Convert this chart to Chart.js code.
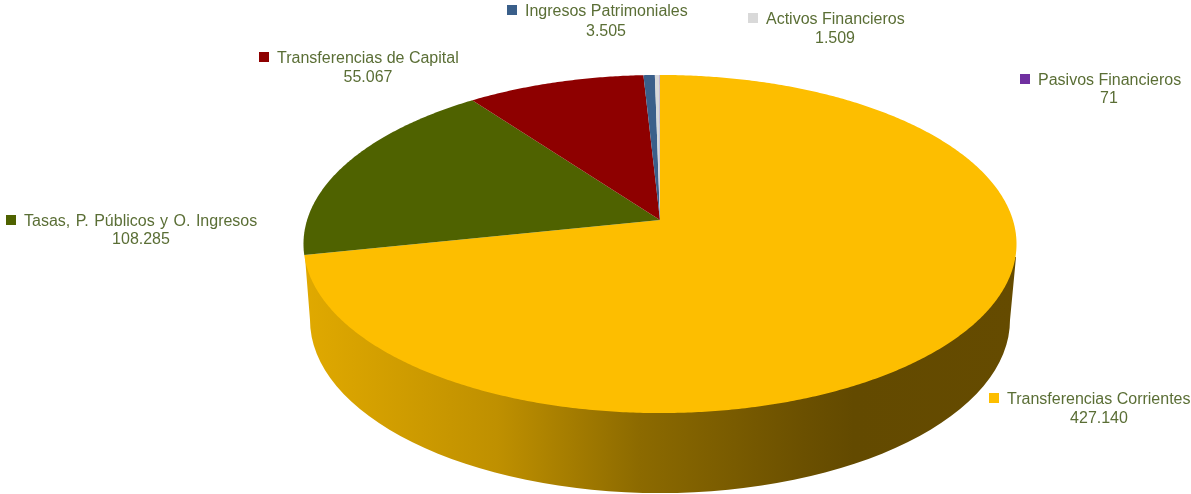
<!DOCTYPE html>
<html>
<head>
<meta charset="utf-8">
<title>Ingresos</title>
<script src="https://cdn.jsdelivr.net/npm/chart.js@4"></script>
<style>
  html, body { margin: 0; padding: 0; background: #fff; overflow: hidden; }
  #wrap { width: 1191px; height: 494px; }
</style>
</head>
<body>
<div id="wrap"><canvas id="ingresosChart" width="1191" height="494"></canvas></div>
<script>
const categories = ['Transferencias Corrientes', 'Tasas, P. Públicos y O. Ingresos', 'Transferencias de Capital', 'Ingresos Patrimoniales', 'Activos Financieros', 'Pasivos Financieros'];
const values = [427140, 108285, 55067, 3505, 1509, 71];
const colors = ['#FDBE00', '#4F6200', '#8E0000', '#3A5F8A', '#D9D9D9', '#7030A0'];

// where each label sits: [text left, name baseline, value centre, value baseline, word gap]
const labelSpots = [
  [1007, 404, 1099, 423, 0],
  [24, 226, 141, 244, 1],
  [277, 63, 368, 82, 0],
  [525, 16, 606, 36, 0],
  [766, 24, 835, 43, 0],
  [1038, 85, 1109, 103, 0],
];

const textColor = '#5A6E35';
const labelFont = '16px "Liberation Sans", Arial, sans-serif';

// tilt of the pie: near side bigger than far side
const tiltX = 0.9885;
const tiltY = 0.4640;
const tiltK = 0.142;

function project(arc, angle) {
  const u = Math.cos(angle);
  const v = Math.sin(angle);
  const w = 1 - tiltK * v;
  return [arc.x + arc.outerRadius * tiltX * u / w, arc.y + arc.outerRadius * tiltY * v / w];
}

function drawWall(ctx) {
  const wall = ctx.createLinearGradient(305, 0, 1017, 0);
  wall.addColorStop(0, '#E0A900');
  wall.addColorStop(0.27, '#BF9000');
  wall.addColorStop(0.47, '#8C6A00');
  wall.addColorStop(0.7, '#6B5000');
  wall.addColorStop(0.77, '#634A00');
  wall.addColorStop(1, '#654B00');
  ctx.beginPath();
  ctx.moveTo(1016, 257);
  ctx.lineTo(1010, 320);
  ctx.ellipse(660, 320, 350, 173, 0, 0, Math.PI);
  ctx.lineTo(305, 257);
  ctx.closePath();
  ctx.fillStyle = wall;
  ctx.fill();
}

const tiltedPie = {
  id: 'tiltedPie',
  beforeDatasetDraw(chart, args) {
    const ctx = chart.ctx;
    const arcs = chart.getDatasetMeta(args.index).data;
    drawWall(ctx);
    arcs.forEach((arc) => {
      ctx.beginPath();
      ctx.moveTo(arc.x, arc.y);
      const steps = Math.max(2, Math.ceil((arc.endAngle - arc.startAngle) * 120));
      for (let i = 0; i <= steps; i++) {
        const p = project(arc, arc.startAngle + (arc.endAngle - arc.startAngle) * i / steps);
        ctx.lineTo(p[0], p[1]);
      }
      ctx.closePath();
      ctx.fillStyle = arc.options.backgroundColor;
      ctx.fill();
    });
    return false;
  },
};

const sliceLabels = {
  id: 'sliceLabels',
  afterDraw(chart) {
    const ctx = chart.ctx;
    ctx.save();
    ctx.font = labelFont;
    ctx.textBaseline = 'alphabetic';
    categories.forEach((name, i) => {
      const [x, y, valueX, valueY, gap] = labelSpots[i];
      ctx.fillStyle = colors[i];
      ctx.fillRect(x - 18, y - 11, 10, 10);
      ctx.fillStyle = textColor;
      ctx.textAlign = 'left';
      ctx.wordSpacing = gap + 'px';
      ctx.fillText(name, x, y);
      ctx.wordSpacing = '0px';
      ctx.textAlign = 'center';
      ctx.fillText(String(values[i]).replace(/\B(?=(\d{3})+$)/g, '.'), valueX, valueY);
    });
    ctx.restore();
  },
};

new Chart(document.getElementById('ingresosChart'), {
  type: 'pie',
  data: {
    labels: categories,
    datasets: [
      {
        data: values,
        backgroundColor: colors,
        borderWidth: 0,
      },
    ],
  },
  options: {
    responsive: false,
    animation: false,
    events: [],
    radius: 357,
    layout: { padding: { left: 129, bottom: 54 } },
    plugins: {
      legend: { display: false },
      tooltip: { enabled: false },
    },
  },
  plugins: [tiltedPie, sliceLabels],
});
</script>
</body>
</html>
